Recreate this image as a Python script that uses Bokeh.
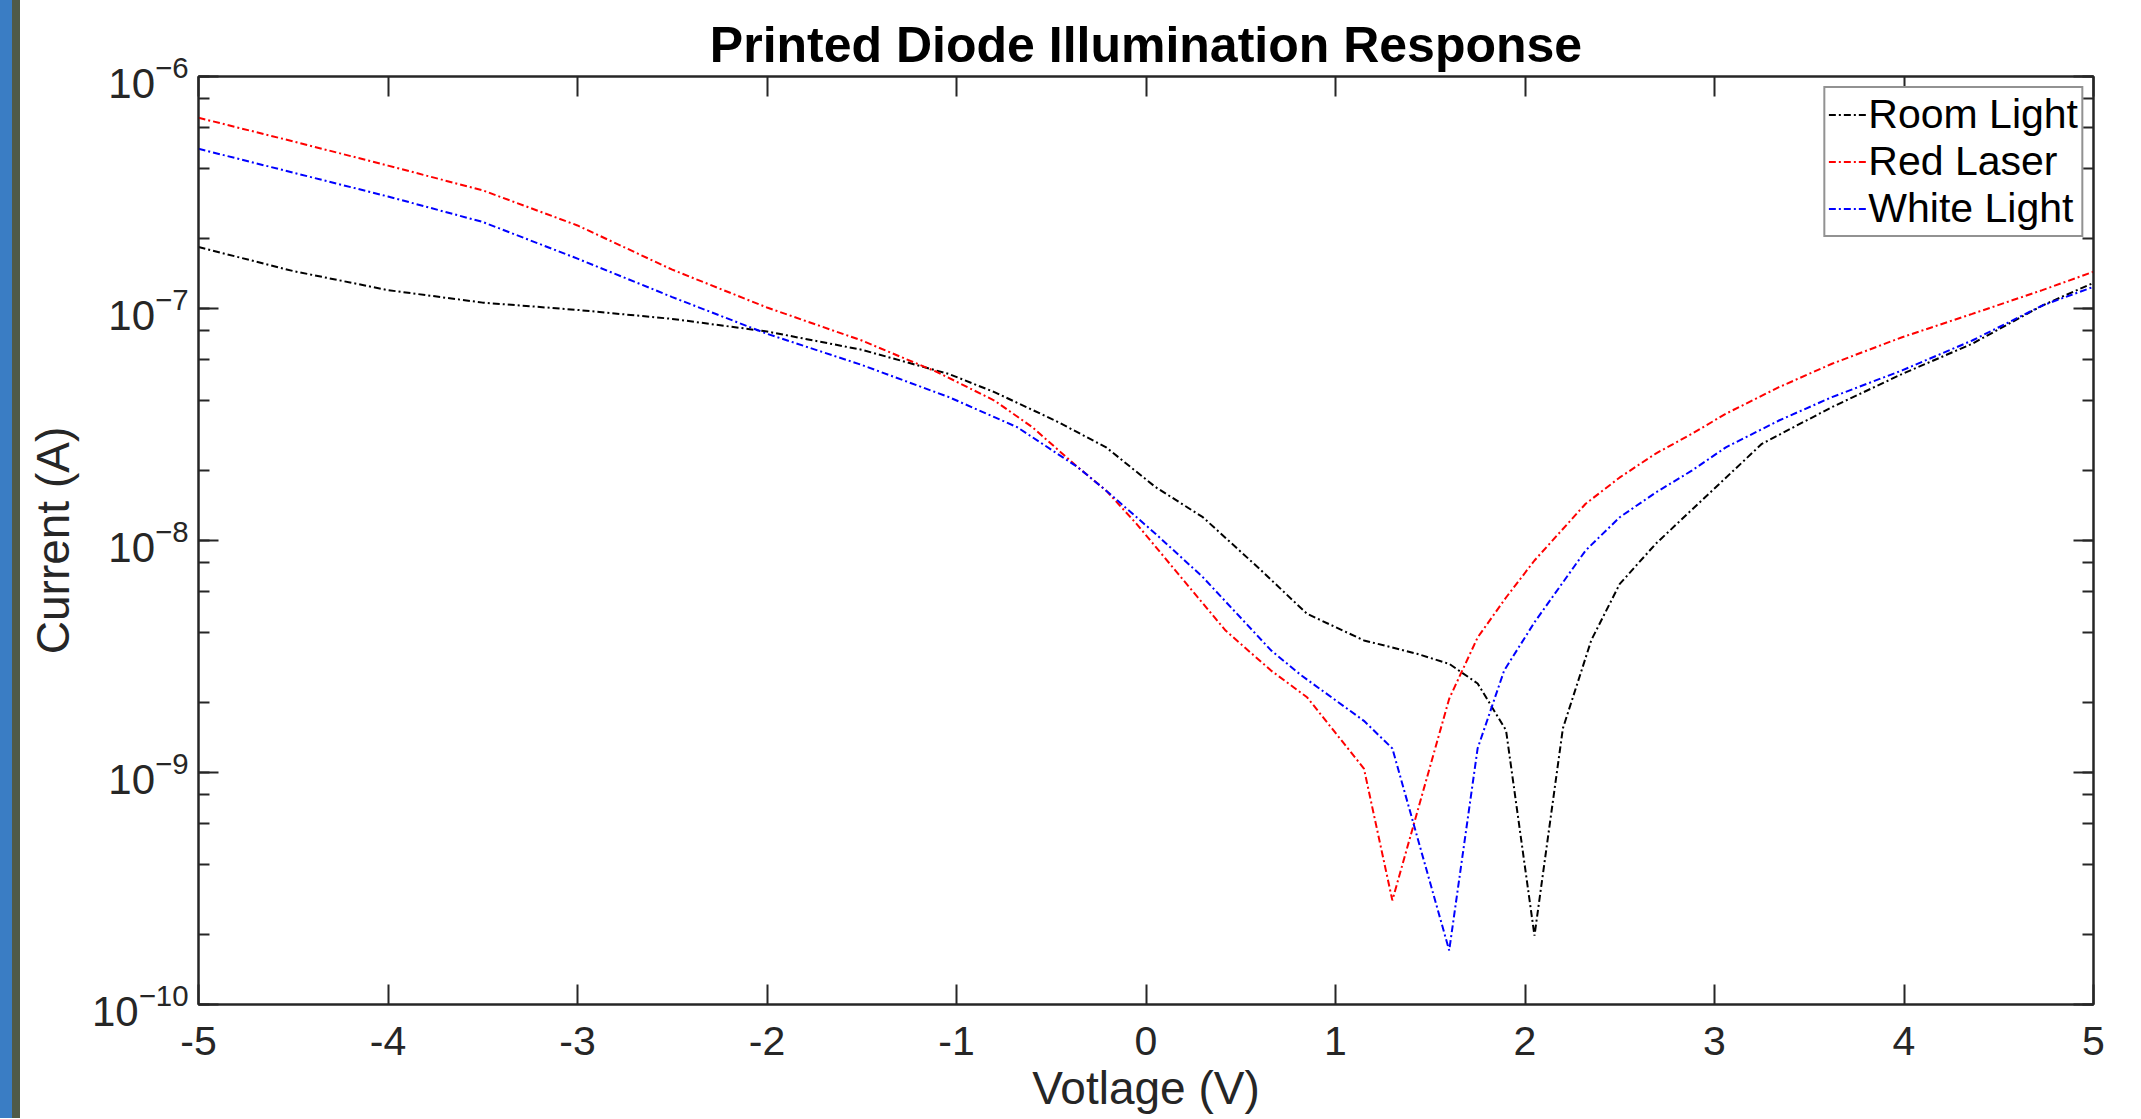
from bokeh.plotting import figure
from bokeh.models import (LinearAxis, LogAxis, Range1d, FixedTicker, LogTicker,
                          Legend, LegendItem, Div, CustomJSTickFormatter)
from bokeh.layouts import row
from bokeh.embed import file_html
from bokeh.resources import INLINE

# ---- data (voltage in V, current in A) ----
room_v = [-5.0, -4.5, -4.0, -3.5, -3.0, -2.5, -2.0, -1.5, -1.04, -0.8, -0.48, -0.21, 0.05, 0.3,
          0.59, 0.85, 1.15, 1.43, 1.6, 1.75, 1.9, 2.05, 2.2, 2.35, 2.5, 2.69, 2.97, 3.25, 3.62,
          3.99, 4.36, 4.73, 5.0]
room_i = [1.84e-7, 1.45e-7, 1.20e-7, 1.06e-7, 9.86e-8, 9.02e-8, 7.96e-8, 6.64e-8, 5.22e-8, 4.36e-8,
          3.29e-8, 2.52e-8, 1.70e-8, 1.26e-8, 7.67e-9, 4.83e-9, 3.71e-9, 3.25e-9, 2.94e-9, 2.42e-9,
          1.52e-9, 1.98e-10, 1.55e-9, 3.72e-9, 6.50e-9, 9.68e-9, 1.59e-8, 2.61e-8, 3.76e-8,
          5.22e-8, 7.05e-8, 1.03e-7, 1.29e-7]

red_v = [-5.0, -4.5, -4.0, -3.5, -3.0, -2.5, -2.0, -1.5, -1.1, -0.8, -0.6, -0.36, -0.21, -0.05, 0.17,
         0.42, 0.66, 0.85, 1.15, 1.3, 1.6, 1.75, 1.9, 2.05, 2.32, 2.5, 2.69, 2.88, 3.06, 3.34, 3.62,
         3.99, 4.36, 4.73, 5.0]
red_i = [6.64e-7, 5.25e-7, 4.13e-7, 3.23e-7, 2.28e-7, 1.47e-7, 1.01e-7, 7.28e-8, 5.31e-8, 4.01e-8,
         3.08e-8, 2.07e-8, 1.64e-8, 1.18e-8, 7.18e-9, 4.09e-9, 2.75e-9, 2.11e-9, 1.04e-9, 2.81e-10,
         2.08e-9, 3.82e-9, 5.68e-9, 8.20e-9, 1.44e-8, 1.87e-8, 2.37e-8, 2.88e-8, 3.52e-8, 4.58e-8,
         5.78e-8, 7.52e-8, 9.48e-8, 1.20e-7, 1.44e-7]

white_v = [-5.0, -4.5, -4.0, -3.5, -3.0, -2.5, -2.0, -1.5, -1.04, -0.68, -0.36, -0.21, 0.05, 0.3,
           0.66, 0.82, 1.15, 1.3, 1.6, 1.75, 1.89, 2.05, 2.32, 2.5, 2.69, 2.88, 3.06, 3.34, 3.62,
           3.99, 4.36, 4.73, 5.0]
white_i = [4.88e-7, 3.85e-7, 3.04e-7, 2.36e-7, 1.64e-7, 1.12e-7, 7.78e-8, 5.71e-8, 4.15e-8, 3.08e-8,
           2.07e-8, 1.64e-8, 1.07e-8, 6.95e-9, 3.36e-9, 2.62e-9, 1.67e-9, 1.27e-9, 1.71e-10, 1.27e-9,
           2.75e-9, 4.44e-9, 9.06e-9, 1.26e-8, 1.61e-8, 2.00e-8, 2.52e-8, 3.29e-8, 4.15e-8,
           5.41e-8, 7.28e-8, 1.03e-7, 1.24e-7]

series_names = ["Room Light", "Red Laser", "White Light"]
series_colors = ["#000000", "#ff0000", "#0000ff"]
x_ticks = [-5, -4, -3, -2, -1, 0, 1, 2, 3, 4, 5]

FONT = "Liberation Sans"
AX = "#262626"

p = figure(width=2113, height=1118, x_range=Range1d(-5, 5), y_range=Range1d(1e-10, 1e-6),
           y_axis_type="log", output_backend="svg", toolbar_location=None,
           min_border_left=178, min_border_right=40, min_border_top=76, min_border_bottom=114)
p.grid.visible = False
p.outline_line_color = AX
p.outline_line_width = 2
p.background_fill_color = "white"
p.border_fill_color = "white"

p.title.text = "Printed Diode Illumination Response"
p.title.align = "center"
p.title.text_font = FONT
p.title.text_font_style = "bold"
p.title.text_font_size = "50px"
p.title.text_color = "#000000"
p.title.standoff = 8


def style_axis(ax, show_labels):
    ax.axis_line_color = AX
    ax.axis_line_width = 2
    ax.major_tick_line_color = AX
    ax.major_tick_line_width = 2
    ax.minor_tick_line_color = AX
    ax.minor_tick_line_width = 2
    ax.major_tick_in = 20
    ax.major_tick_out = 0
    ax.minor_tick_in = 11
    ax.minor_tick_out = 0
    ax.major_label_text_font = FONT
    ax.major_label_text_color = AX
    ax.axis_label_text_font = FONT
    ax.axis_label_text_color = AX
    ax.axis_label_text_font_style = "normal"
    if not show_labels:
        ax.major_label_text_font_size = "1px"
        ax.major_label_text_alpha = 0
        ax.major_label_standoff = 0


xa = p.xaxis[0]
xa.ticker = FixedTicker(ticks=x_ticks, minor_ticks=[])
xa.formatter = CustomJSTickFormatter(code="return tick.toString();")
style_axis(xa, True)
xa.major_label_text_font_size = "41px"
xa.major_label_standoff = 22
xa.axis_label = "Votlage (V)"
xa.axis_label_text_font_size = "46px"
xa.axis_label_standoff = 4

ya = p.yaxis[0]
ya.ticker = LogTicker(desired_num_ticks=5)
style_axis(ya, True)
ya.major_label_text_font_size = "42px"
ya.major_label_standoff = 10
ya.axis_label = "Current (A)"
ya.axis_label_text_font_size = "46px"
ya.axis_label_standoff = 10

top = LinearAxis(ticker=FixedTicker(ticks=x_ticks, minor_ticks=[]))
style_axis(top, False)
p.add_layout(top, "above")
right = LogAxis(ticker=LogTicker(desired_num_ticks=5))
style_axis(right, False)
p.add_layout(right, "right")

items = []
for v, i, name, col in zip([room_v, red_v, white_v], [room_i, red_i, white_i],
                           series_names, series_colors):
    r = p.line(v, i, line_color=col, line_width=2, line_dash="7 3 2 3")
    items.append(LegendItem(label=name, renderers=[r]))

leg = Legend(items=items, location="top_right")
leg.label_text_font = FONT
leg.label_text_font_size = "41px"
leg.label_text_color = "#000000"
leg.border_line_color = AX
leg.border_line_width = 2
leg.background_fill_alpha = 1
leg.padding = 3
leg.spacing = 0
leg.margin = 10
leg.glyph_width = 38
leg.glyph_height = 45
leg.label_height = 45
leg.label_standoff = 2
p.add_layout(leg)

bar1 = Div(width=12, height=1118, margin=0, styles={"background-color": "#3a7dc4"})
bar2 = Div(width=8, height=1118, margin=0, styles={"background-color": "#4f5a48"})
layout = row(bar1, bar2, p, spacing=0)

open("out.html", "w").write(file_html(layout, INLINE))
